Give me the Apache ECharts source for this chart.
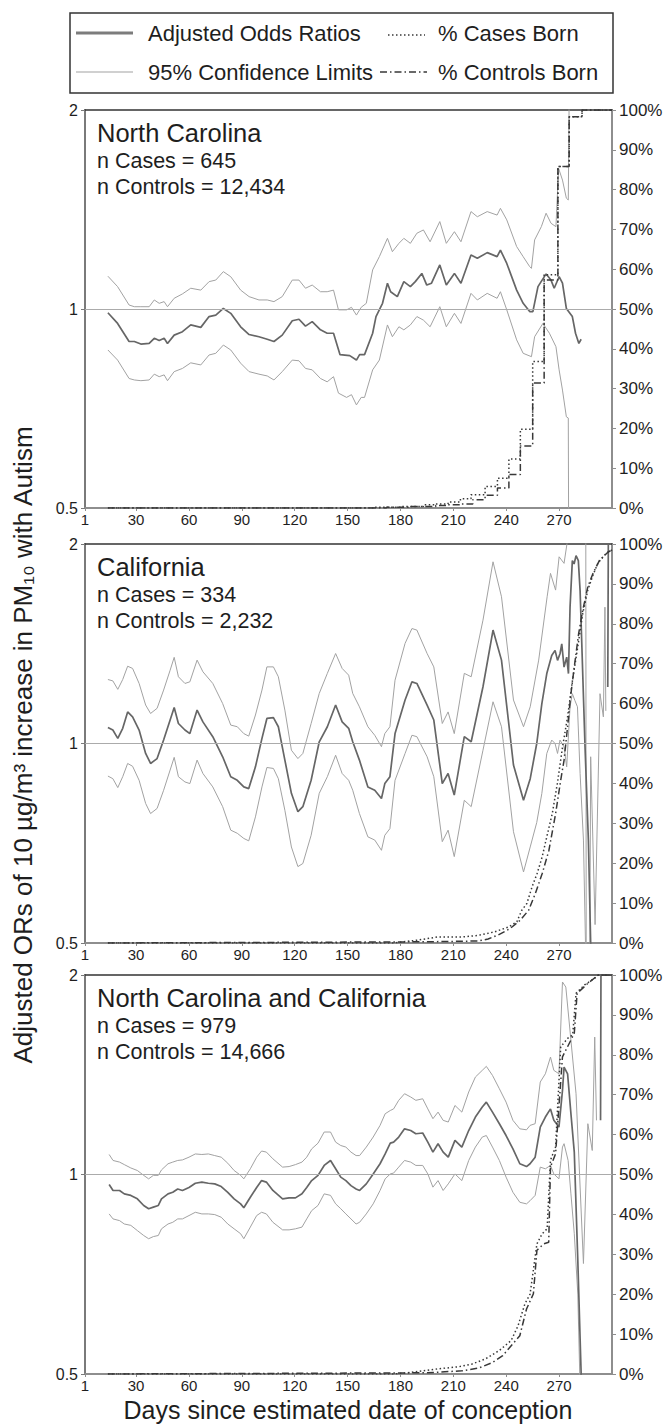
<!DOCTYPE html>
<html><head><meta charset="utf-8">
<script src="https://cdn.jsdelivr.net/npm/echarts@6/dist/echarts.min.js"></script>
<style>html,body{margin:0;padding:0;background:#fff}#c{width:666px;height:1426px}</style>
</head><body><div id="c"></div>
<script>
// ---------- text ----------
const panelTitles = ['North Carolina', 'California', 'North Carolina and California'];
const panelCases = ['n Cases = 645', 'n Cases = 334', 'n Cases = 979'];
const panelControls = ['n Controls = 12,434', 'n Controls = 2,232', 'n Controls = 14,666'];
const legendNames = ['Adjusted Odds Ratios', '% Cases Born', '95% Confidence Limits', '% Controls Born'];
const yTitle = 'Adjusted ORs of 10 \u00b5g/m\u00b3 increase in PM\u2081\u2080 with Autism';
const xTitle = 'Days since estimated date of conception';
const xTickDays = [1, 30, 60, 90, 120, 150, 180, 210, 240, 270];

// ---------- North Carolina: [day, value] ----------
const ncOR = [[14,0.987],[19.5,0.951],[26,0.893],[29,0.893],[32.7,0.885],[37.4,0.887],[40.3,0.903],[43.1,0.896],[45.9,0.903],[47.8,0.887],[51.6,0.913],[56.3,0.924],[61,0.946],[66.7,0.938],[71.4,0.974],[75.2,0.979],[79.5,1.002],[83.7,0.985],[89.3,0.940],[94.1,0.915],[99.7,0.908],[104.4,0.900],[108.2,0.893],[112.9,0.913],[118.6,0.960],[122.4,0.965],[126.1,0.942],[129.9,0.957],[134.6,0.930],[138.4,0.919],[142,0.919],[145.7,0.853],[151.2,0.850],[155,0.837],[156.8,0.853],[159.6,0.853],[164.2,0.919],[166.1,0.974],[169.8,1.020],[172.6,1.094],[174.4,1.062],[178.2,1.044],[181.9,1.100],[185.6,1.081],[188.4,1.100],[192.1,1.132],[194.9,1.087],[197.6,1.094],[202.3,1.166],[206,1.087],[210.6,1.132],[214.3,1.094],[220,1.207],[223.6,1.193],[229.2,1.217],[234.8,1.200],[236.7,1.228],[240.3,1.172],[245.9,1.068],[249.6,1.020],[253.3,0.991],[255.1,0.991],[258,1.081],[262.6,1.130],[265.4,1.106],[267.2,1.075],[270,1.119],[271.9,1.094],[274.1,1.002],[277.5,0.974],[279.3,0.919],[281.2,0.887],[282.5,0.900]];
const ncHi = [[14,1.121],[19.5,1.081],[26,1.014],[29,1.008],[32.7,1.008],[37.4,1.008],[40.3,1.032],[43.1,1.020],[45.9,1.026],[47.8,1.008],[51.6,1.038],[56.3,1.054],[61,1.075],[66.7,1.068],[71.4,1.100],[75.2,1.106],[79.5,1.139],[83.7,1.119],[89.3,1.068],[94.1,1.044],[99.7,1.032],[104.4,1.032],[108.2,1.026],[112.9,1.044],[118.6,1.106],[122.4,1.106],[126.1,1.075],[129.9,1.087],[134.6,1.062],[138.4,1.062],[142,1.068],[144.8,0.997],[149.4,0.997],[152.2,1.006],[155,0.979],[157.7,1.006],[160.6,1.020],[164.2,1.146],[168,1.200],[172.6,1.279],[175.4,1.221],[179.1,1.257],[181.9,1.279],[185.6,1.257],[189.3,1.302],[193,1.317],[196.8,1.264],[202.3,1.356],[206,1.257],[210.6,1.309],[214.3,1.264],[220,1.404],[223.6,1.379],[229.2,1.404],[234.8,1.387],[236.7,1.420],[240.3,1.364],[245.9,1.243],[249.6,1.200],[253.3,1.159],[254.3,1.152],[256.1,1.272],[259.9,1.332],[262.6,1.396],[265.4,1.348],[268.2,1.332],[269.7,1.632],[271.9,1.567],[274.1,1.471],[275.2,1.462],[276,2.6]];
const ncLo = [[14,0.867],[19.5,0.837],[26,0.785],[29,0.781],[32.7,0.779],[37.4,0.781],[40.3,0.797],[43.1,0.790],[45.9,0.795],[47.8,0.779],[51.6,0.804],[56.3,0.813],[61,0.829],[66.7,0.823],[71.4,0.852],[75.2,0.857],[79.5,0.882],[83.7,0.867],[89.3,0.828],[94.1,0.804],[99.7,0.797],[104.4,0.792],[108.2,0.781],[112.9,0.804],[118.6,0.837],[122.4,0.835],[126.1,0.813],[129.9,0.809],[134.6,0.785],[138.4,0.776],[142,0.790],[144.8,0.746],[149.4,0.735],[152.2,0.742],[155,0.716],[157.7,0.735],[159.6,0.735],[164.2,0.809],[168,0.837],[172.6,0.946],[175.4,0.908],[179.1,0.940],[181.9,0.930],[185.6,0.946],[189.3,0.974],[193,0.962],[196.8,0.940],[202.3,1.008],[206,0.940],[210.6,0.985],[214.3,0.951],[220,1.056],[223.6,1.032],[229.2,1.056],[234.8,1.038],[236.7,1.062],[240.3,0.997],[245.9,0.898],[249.6,0.857],[254.3,0.847],[256.1,0.908],[260.8,0.951],[264.5,0.919],[268.2,0.877],[270,0.809],[271.9,0.754],[274.1,0.687],[275.2,0.684],[275.6,0.3]];
const ncCases = [[14,0],[165,0.2],[180,0.4],[193,0.8],[200,1.0],[207,1.5],[214,2.3],[220,3.3],[228,5.4],[235,7.5],[241.5,12.3],[248,19.8],[255,36.8],[261.5,58.6],[269.3,85.8],[275.7,98.3],[283,100],[300,100]];
const ncControls = [[14,0],[172,0.2],[186,0.4],[200,0.6],[207,0.8],[214,1.0],[221,2.1],[228,3.2],[235,5.0],[241.5,8.4],[248,15.6],[255,31.4],[261.5,57.3],[269.3,85.8],[275.7,98.3],[283,100],[300,100]];

// ---------- California ----------
const caOR = [[14.0,1.057],[16.8,1.048],[19.6,1.018],[22.4,1.054],[25.2,1.116],[28.0,1.097],[31.7,1.048],[35.4,0.966],[38.2,0.933],[41.9,0.949],[45.6,1.012],[49.3,1.085],[51.6,1.133],[54.0,1.072],[57.7,1.048],[60.5,1.035],[64.6,1.123],[67.9,1.078],[73.5,1.024],[79.1,0.955],[83.7,0.891],[87.4,0.880],[91.1,0.860],[93.9,0.855],[97.7,0.922],[101.4,1.018],[104.2,1.091],[107.9,1.094],[110.7,1.060],[114.4,0.944],[118.1,0.841],[121.8,0.789],[124.6,0.803],[129.3,0.880],[133.9,1.006],[138.5,1.060],[143.2,1.143],[146.9,1.078],[150.6,1.054],[152.9,1.006],[156.7,0.944],[161.5,0.860],[165.4,0.850],[169.2,0.826],[171.1,0.870],[174,0.891],[176.9,1.035],[182.6,1.163],[186.5,1.239],[189.3,1.232],[195.1,1.143],[198.9,1.085],[203.7,0.870],[207,0.901],[210.5,0.836],[216.2,1.024],[220.1,1.006],[226.8,1.218],[232.5,1.483],[237.3,1.336],[244.1,0.928],[249.8,0.821],[253.6,0.885],[257.3,1.0],[260.2,1.149],[263,1.275],[265.8,1.358],[267.7,1.382],[269.1,1.335],[270.5,1.366],[271.5,1.414],[272.8,1.304],[274.3,1.350],[275.3,1.275],[276.2,1.606],[277.5,1.888],[278.5,1.866],[279.6,1.921],[280.9,1.888],[281.9,1.701],[282.8,1.431],[284.7,0.988],[286.6,0.715],[287.9,0.5],[288.3,0.42],[288.5,null],[297.6,1.217],[298,2.3]];
const caHi = [[14.0,1.249],[16.8,1.243],[19.6,1.207],[22.4,1.249],[25.2,1.308],[28.0,1.298],[31.7,1.232],[35.4,1.143],[38.2,1.110],[41.9,1.130],[45.6,1.204],[49.3,1.290],[51.6,1.349],[54.0,1.261],[57.7,1.232],[60.5,1.239],[64.6,1.336],[67.9,1.283],[73.5,1.232],[79.1,1.149],[83.7,1.066],[87.4,1.060],[91.1,1.035],[93.9,1.026],[97.7,1.104],[101.4,1.204],[104.2,1.305],[107.9,1.305],[110.7,1.261],[114.4,1.123],[118.1,0.977],[121.8,0.949],[124.6,0.966],[129.3,1.072],[133.9,1.190],[138.5,1.276],[143.2,1.367],[146.9,1.298],[150.6,1.268],[152.9,1.190],[156.7,1.136],[161.5,1.060],[165.4,1.029],[169.2,0.989],[171.1,1.035],[174,1.060],[176.9,1.246],[182.6,1.416],[186.5,1.491],[189.3,1.483],[195.1,1.367],[198.9,1.305],[203.7,1.072],[207,1.116],[210.5,1.035],[216.2,1.276],[220.1,1.261],[226.8,1.535],[232.5,1.880],[237.3,1.665],[244.1,1.163],[249.8,1.060],[253.6,1.136],[258.4,1.336],[263.2,1.665],[265.1,1.806],[268,1.704],[270,1.913],[272.8,1.870],[274.8,2.03],[275.5,2.6],[285.1,2.6],[285.4,0.4],[287.3,0.4],[287.9,0.955],[290.4,0.533],[293.2,1.189],[295.1,1.097],[296,1.606],[296.5,1.12]];
const caLo = [[14.0,0.893],[16.8,0.885],[19.6,0.858],[22.4,0.891],[25.2,0.933],[28.0,0.924],[31.7,0.880],[35.4,0.812],[38.2,0.784],[41.9,0.798],[45.6,0.850],[49.3,0.912],[51.6,0.953],[54.0,0.891],[57.7,0.875],[60.5,0.870],[64.6,0.944],[67.9,0.901],[73.5,0.860],[79.1,0.803],[83.7,0.740],[87.4,0.732],[91.1,0.719],[93.9,0.713],[97.7,0.775],[101.4,0.860],[104.2,0.920],[107.9,0.917],[110.7,0.885],[114.4,0.793],[118.1,0.698],[121.8,0.652],[124.6,0.659],[129.3,0.727],[133.9,0.841],[138.5,0.891],[143.2,0.960],[146.9,0.901],[150.6,0.880],[152.9,0.850],[156.7,0.784],[161.5,0.723],[165.4,0.715],[169.2,0.690],[171.1,0.727],[174,0.744],[176.9,0.880],[182.6,0.966],[186.5,1.029],[189.3,1.024],[195.1,0.955],[198.9,0.891],[203.7,0.711],[207,0.740],[210.5,0.675],[216.2,0.821],[220.1,0.803],[226.8,0.977],[232.5,1.156],[237.3,1.060],[244.1,0.736],[249.8,0.640],[253.6,0.698],[257.3,0.760],[260.2,0.841],[263,0.966],[265.8,1.012],[267.7,1.0],[269.1,0.966],[270.5,1.012],[272.8,0.988],[274.3,0.922],[276.2,1.136],[277.5,1.189],[278.9,1.162],[280.4,1.136],[281.9,0.901],[283.8,0.715],[285.3,0.45]];
const caCases = [[14,0],[176,0],[189.3,0.7],[200.9,1.5],[214.3,1.5],[224,1.9],[233.5,2.8],[241.2,4],[246,5.3],[248.8,8.2],[251.7,9.9],[254.6,14],[257.5,17.4],[260.4,21.6],[263.2,27],[266.1,32.4],[269,40],[271.9,49],[274.8,56.7],[277.6,65.9],[280.5,74],[283.4,82.6],[286.3,88.5],[289.2,92.2],[292,95.2],[296.8,97.7],[300,98.5]];
const caControls = [[14,0],[195,0.3],[224,0.5],[229.7,1],[235.4,2],[242.1,3.6],[247.9,5.7],[252.7,8.2],[256.5,12.4],[260.4,17.4],[264.2,23.2],[268,32.4],[270.9,40.8],[272.8,45.8],[274.8,54.2],[276.7,62.5],[278.6,69.2],[281.1,77.6],[283.4,83.4],[286.3,89.3],[289.2,92.6],[293,96],[297.8,98],[300,98.5]];

// ---------- North Carolina and California ----------
const bothOR = [[14.7,0.966],[16.9,0.946],[20.6,0.946],[23.3,0.935],[27,0.930],[30.7,0.919],[34.3,0.898],[37.1,0.888],[39.8,0.893],[42.6,0.898],[44.4,0.919],[48.1,0.935],[50.8,0.940],[53.6,0.951],[56.3,0.946],[60,0.956],[63.6,0.970],[67.3,0.974],[71,0.970],[74.6,0.968],[78.3,0.959],[82,0.940],[85.6,0.919],[89.3,0.903],[91.1,0.891],[94.8,0.924],[98.4,0.956],[101.2,0.979],[103.9,0.974],[107.6,0.946],[113.1,0.919],[116.8,0.922],[120.4,0.922],[124.1,0.935],[126.8,0.956],[129.6,0.979],[133.2,0.997],[136.7,1.032],[140.3,1.050],[143.2,1.020],[146.1,0.991],[149,0.979],[151.9,0.962],[154.8,0.951],[156.8,0.946],[160.6,0.968],[164.5,1.002],[168.4,1.038],[171.3,1.074],[174.2,1.115],[176.1,1.119],[179,1.139],[182.3,1.172],[185.8,1.165],[188.7,1.152],[192.6,1.155],[195.5,1.119],[198.4,1.081],[201.3,1.113],[204.2,1.081],[207.1,1.062],[210.9,1.126],[214.8,1.100],[218.7,1.165],[222.5,1.221],[226.4,1.264],[228.7,1.286],[232.2,1.242],[236.1,1.193],[239.9,1.145],[243.8,1.093],[247.7,1.038],[251.5,1.028],[253.5,1.038],[256.4,1.062],[259.3,1.179],[262.2,1.221],[265.1,1.256],[267,1.207],[269.9,1.179],[271.9,1.339],[272.8,1.452],[274.8,1.419],[276.7,1.235],[278.6,1.081],[280.6,0.742],[282.5,0.5],[283,0.4],[283.2,null],[293.5,1.207],[293.8,2.3]];
const bothHi = [[14.7,1.072],[16.9,1.050],[20.6,1.044],[23.3,1.035],[27,1.023],[30.7,1.014],[34.3,0.997],[37.1,0.985],[39.8,0.997],[42.6,0.997],[44.4,1.016],[48.1,1.038],[50.8,1.044],[53.6,1.050],[56.3,1.052],[60,1.062],[63.6,1.074],[67.3,1.072],[71,1.074],[74.6,1.068],[78.3,1.062],[82,1.040],[85.6,1.014],[89.3,0.997],[91.1,0.985],[94.8,1.020],[98.4,1.062],[101.2,1.085],[103.9,1.081],[107.6,1.056],[113.1,1.026],[116.8,1.028],[120.4,1.035],[124.1,1.044],[126.8,1.062],[129.6,1.093],[133.2,1.115],[136.7,1.159],[140.3,1.159],[143.2,1.119],[146.1,1.106],[149,1.100],[151.9,1.081],[154.8,1.068],[156.8,1.068],[160.6,1.100],[164.5,1.139],[168.4,1.186],[171.3,1.235],[174.2,1.249],[176.1,1.256],[179,1.294],[182.3,1.324],[185.8,1.309],[188.7,1.294],[192.6,1.301],[195.5,1.256],[198.4,1.214],[201.3,1.242],[204.2,1.207],[207.1,1.200],[210.9,1.271],[214.8,1.242],[218.7,1.332],[222.5,1.403],[226.4,1.436],[228.7,1.456],[232.2,1.411],[236.1,1.347],[239.9,1.286],[243.8,1.207],[247.7,1.172],[251.5,1.168],[253.5,1.186],[256.4,1.193],[259.3,1.379],[262.2,1.419],[265.1,1.504],[267,1.436],[269.9,1.419],[271.9,1.952],[273.8,1.918],[276.7,1.594],[279.6,1.324],[283.8,0.734],[286.3,1.193],[288.8,1.087],[290.2,1.612],[291.2,1.207]];
const bothLo = [[14.7,0.872],[16.9,0.857],[20.6,0.852],[23.3,0.842],[27,0.838],[30.7,0.823],[34.3,0.809],[37.1,0.800],[39.8,0.806],[42.6,0.809],[44.4,0.828],[48.1,0.842],[50.8,0.847],[53.6,0.857],[56.3,0.857],[60,0.867],[63.6,0.877],[67.3,0.872],[71,0.872],[74.6,0.870],[78.3,0.862],[82,0.842],[85.6,0.828],[89.3,0.814],[91.1,0.800],[94.8,0.833],[98.4,0.867],[101.2,0.877],[103.9,0.872],[107.6,0.847],[113.1,0.825],[116.8,0.825],[120.4,0.828],[124.1,0.833],[126.8,0.857],[129.6,0.882],[133.2,0.898],[136.7,0.935],[140.3,0.930],[143.2,0.903],[146.1,0.888],[149,0.872],[151.9,0.857],[154.8,0.842],[156.8,0.847],[160.6,0.872],[164.5,0.903],[168.4,0.946],[171.3,0.985],[174.2,1.002],[176.1,1.005],[179,1.026],[182.3,1.050],[185.8,1.044],[188.7,1.032],[192.6,1.032],[195.5,1.002],[198.4,0.957],[201.3,0.979],[204.2,0.946],[207.1,0.968],[210.9,1.002],[214.8,0.979],[218.7,1.050],[222.5,1.100],[226.4,1.139],[228.7,1.145],[232.2,1.100],[236.1,1.050],[239.9,0.991],[243.8,0.940],[247.7,0.908],[251.5,0.903],[253.5,0.913],[256.4,0.930],[259.3,1.026],[262.2,1.020],[265.1,1.032],[267,1.002],[269.9,0.985],[271.9,1.100],[272.8,1.113],[275.1,1.050],[276.7,0.935],[278.6,0.814],[280.6,0.660],[282.1,0.45]];
const bothCases = [[14,0],[176.1,0],[185.8,0.4],[201.3,1.3],[212.9,1.8],[220.6,2.5],[228.3,3.8],[236.1,5.9],[242.8,8.4],[246.7,12.1],[250.6,17.6],[253.5,20],[257.4,32.6],[260.3,35.1],[263.2,36.4],[265.1,53.6],[268,56.9],[270.9,82],[274.8,84.1],[277.7,85],[279.6,95.4],[284.4,97.5],[290.2,99.2],[292.2,100],[300,100]];
const bothControls = [[14,0],[195,0.3],[214.8,0.8],[224.5,1.5],[232.2,2.9],[238,4.6],[242.8,7.1],[247.7,9.6],[251.5,16.3],[255.4,20.1],[257.4,31],[261.2,32.6],[264.1,33],[265.1,51.9],[268,55.2],[271.9,79.5],[276.7,83.7],[278.6,85.4],[280.2,95.4],[286.3,97.9],[292.2,100],[300,100]];

// ---------- layout & style ----------
const FONT = '"Liberation Sans", Arial, Helvetica, sans-serif';
const NARROW = '"Liberation Sans Narrow", "Arial Narrow", "Liberation Sans", Arial, sans-serif';
const TXT = '#1e1e1e';
const OR_COLOR = '#666666';
const CI_COLOR = '#a2a2a2';
const CUM_COLOR = '#383838';
const DOT = [1.5, 2.5];
const DASHDOT = [7, 3, 1.5, 3];
const tops = [110, 544, 975];
const heights = [398, 399, 399];
const GL = 85, GW = 527;

const panels = [
  {or: ncOR, lo: ncLo, hi: ncHi, cases: ncCases, controls: ncControls, step: 'end'},
  {or: caOR, lo: caLo, hi: caHi, cases: caCases, controls: caControls, step: false},
  {or: bothOR, lo: bothLo, hi: bothHi, cases: bothCases, controls: bothControls, step: false}
];

const grid = [], xAxis = [], yAxis = [], series = [], graphic = [];

panels.forEach((p, i) => {
  grid.push({left: GL, width: GW, top: tops[i], height: heights[i], containLabel: false, outerBoundsMode: 'none'});
  xAxis.push({
    type: 'value', gridIndex: i, min: 1, max: 300, position: 'bottom',
    axisLine: {show: true, onZero: false, lineStyle: {color: '#8e8e8e', width: 2}},
    axisTick: {show: true, customValues: xTickDays, length: 3, lineStyle: {color: '#8e8e8e'}},
    axisLabel: {customValues: xTickDays, fontSize: 15, color: TXT, margin: 4, fontFamily: NARROW},
    splitLine: {show: false}
  });
  xAxis.push({
    type: 'value', gridIndex: i, min: 1, max: 300, position: 'top',
    axisLine: {show: true, onZero: false, lineStyle: {color: '#333', width: 1.5}},
    axisTick: {show: false}, axisLabel: {show: false}, splitLine: {show: false}
  });
  yAxis.push({
    type: 'log', logBase: 2, gridIndex: i, min: 0.5, max: 2, position: 'left',
    axisLine: {show: true, onZero: false, lineStyle: {color: '#7a7a7a', width: 2}},
    axisTick: {show: true, length: 4, lineStyle: {color: '#7a7a7a'}},
    axisLabel: {fontSize: 16, color: TXT, margin: 7, fontFamily: FONT,
      formatter: v => String(Math.round(v * 100) / 100)},
    splitLine: {show: false}
  });
  yAxis.push({
    type: 'value', gridIndex: i, min: 0, max: 100, interval: 10, position: 'right',
    axisLine: {show: true, onZero: false, lineStyle: {color: '#8e8e8e', width: 2}},
    axisTick: {show: true, length: 4, lineStyle: {color: '#8e8e8e'}},
    axisLabel: {fontSize: 17, color: TXT, margin: 7, fontFamily: FONT, formatter: '{value}%'},
    splitLine: {show: false}
  });
  const base = {type: 'line', xAxisIndex: 2 * i, showSymbol: false, symbol: 'none',
    silent: true, animation: false, emphasis: {disabled: true}};
  series.push(Object.assign({}, base, {name: legendNames[2], yAxisIndex: 2 * i, data: p.hi,
    lineStyle: {color: CI_COLOR, width: 1}}));
  series.push(Object.assign({}, base, {name: legendNames[2], yAxisIndex: 2 * i, data: p.lo,
    lineStyle: {color: CI_COLOR, width: 1}}));
  series.push(Object.assign({}, base, {name: legendNames[0], yAxisIndex: 2 * i, data: p.or,
    lineStyle: {color: OR_COLOR, width: 1.7},
    markLine: {silent: true, symbol: ['none', 'none'], label: {show: false}, animation: false,
      lineStyle: {color: '#ababab', width: 1, type: 'solid'}, data: [{yAxis: 1}]}}));
  series.push(Object.assign({}, base, {name: legendNames[1], yAxisIndex: 2 * i + 1, data: p.cases,
    step: p.step, lineStyle: {color: CUM_COLOR, width: 1.5, type: DOT}}));
  series.push(Object.assign({}, base, {name: legendNames[3], yAxisIndex: 2 * i + 1, data: p.controls,
    step: p.step, lineStyle: {color: CUM_COLOR, width: 1.5, type: DASHDOT}}));

  // panel annotations
  graphic.push({type: 'text', x: 97, y: tops[i] + 23, silent: true,
    style: {text: panelTitles[i], font: '25.5px ' + FONT, fill: TXT, textVerticalAlign: 'middle'}});
  graphic.push({type: 'text', x: 97, y: tops[i] + 51, silent: true,
    style: {text: panelCases[i], font: '21.5px ' + FONT, fill: TXT, textVerticalAlign: 'middle'}});
  graphic.push({type: 'text', x: 97, y: tops[i] + 77, silent: true,
    style: {text: panelControls[i], font: '21.5px ' + FONT, fill: TXT, textVerticalAlign: 'middle'}});
});

// legend box
const LR1 = 33, LR2 = 72;
graphic.push({type: 'rect', silent: true, shape: {x: 70, y: 13, width: 543, height: 80},
  style: {fill: '#fff', stroke: '#333', lineWidth: 1.5}});
graphic.push({type: 'line', silent: true, shape: {x1: 76, y1: LR1, x2: 133, y2: LR1},
  style: {stroke: '#7c7c7c', lineWidth: 3}});
graphic.push({type: 'line', silent: true, shape: {x1: 76, y1: LR2, x2: 133, y2: LR2},
  style: {stroke: CI_COLOR, lineWidth: 1.2}});
graphic.push({type: 'line', silent: true, shape: {x1: 388, y1: LR1 + 2, x2: 425, y2: LR1 + 2},
  style: {stroke: CUM_COLOR, lineWidth: 1.5, lineDash: DOT}});
graphic.push({type: 'line', silent: true, shape: {x1: 380, y1: LR2, x2: 427, y2: LR2},
  style: {stroke: CUM_COLOR, lineWidth: 1.5, lineDash: DASHDOT}});
[[legendNames[0], 148, LR1], [legendNames[1], 438, LR1], [legendNames[2], 148, LR2], [legendNames[3], 438, LR2]]
  .forEach(t => graphic.push({type: 'text', x: t[1], y: t[2], silent: true,
    style: {text: t[0], font: '22px ' + FONT, fill: TXT, textVerticalAlign: 'middle'}}));

// axis titles
graphic.push({type: 'text', x: 23, y: 745, rotation: Math.PI / 2, silent: true,
  style: {text: yTitle, font: '26px ' + FONT, fill: TXT, textAlign: 'center', textVerticalAlign: 'middle'}});
graphic.push({type: 'text', x: 348, y: 1410, silent: true,
  style: {text: xTitle, font: '25px ' + FONT, fill: TXT, textAlign: 'center', textVerticalAlign: 'middle'}});

const chart = echarts.init(document.getElementById('c'), null, {renderer: 'svg'});
chart.setOption({
  animation: false,
  backgroundColor: '#fff',
  grid: grid, xAxis: xAxis, yAxis: yAxis, series: series, graphic: graphic
});
</script></body></html>
